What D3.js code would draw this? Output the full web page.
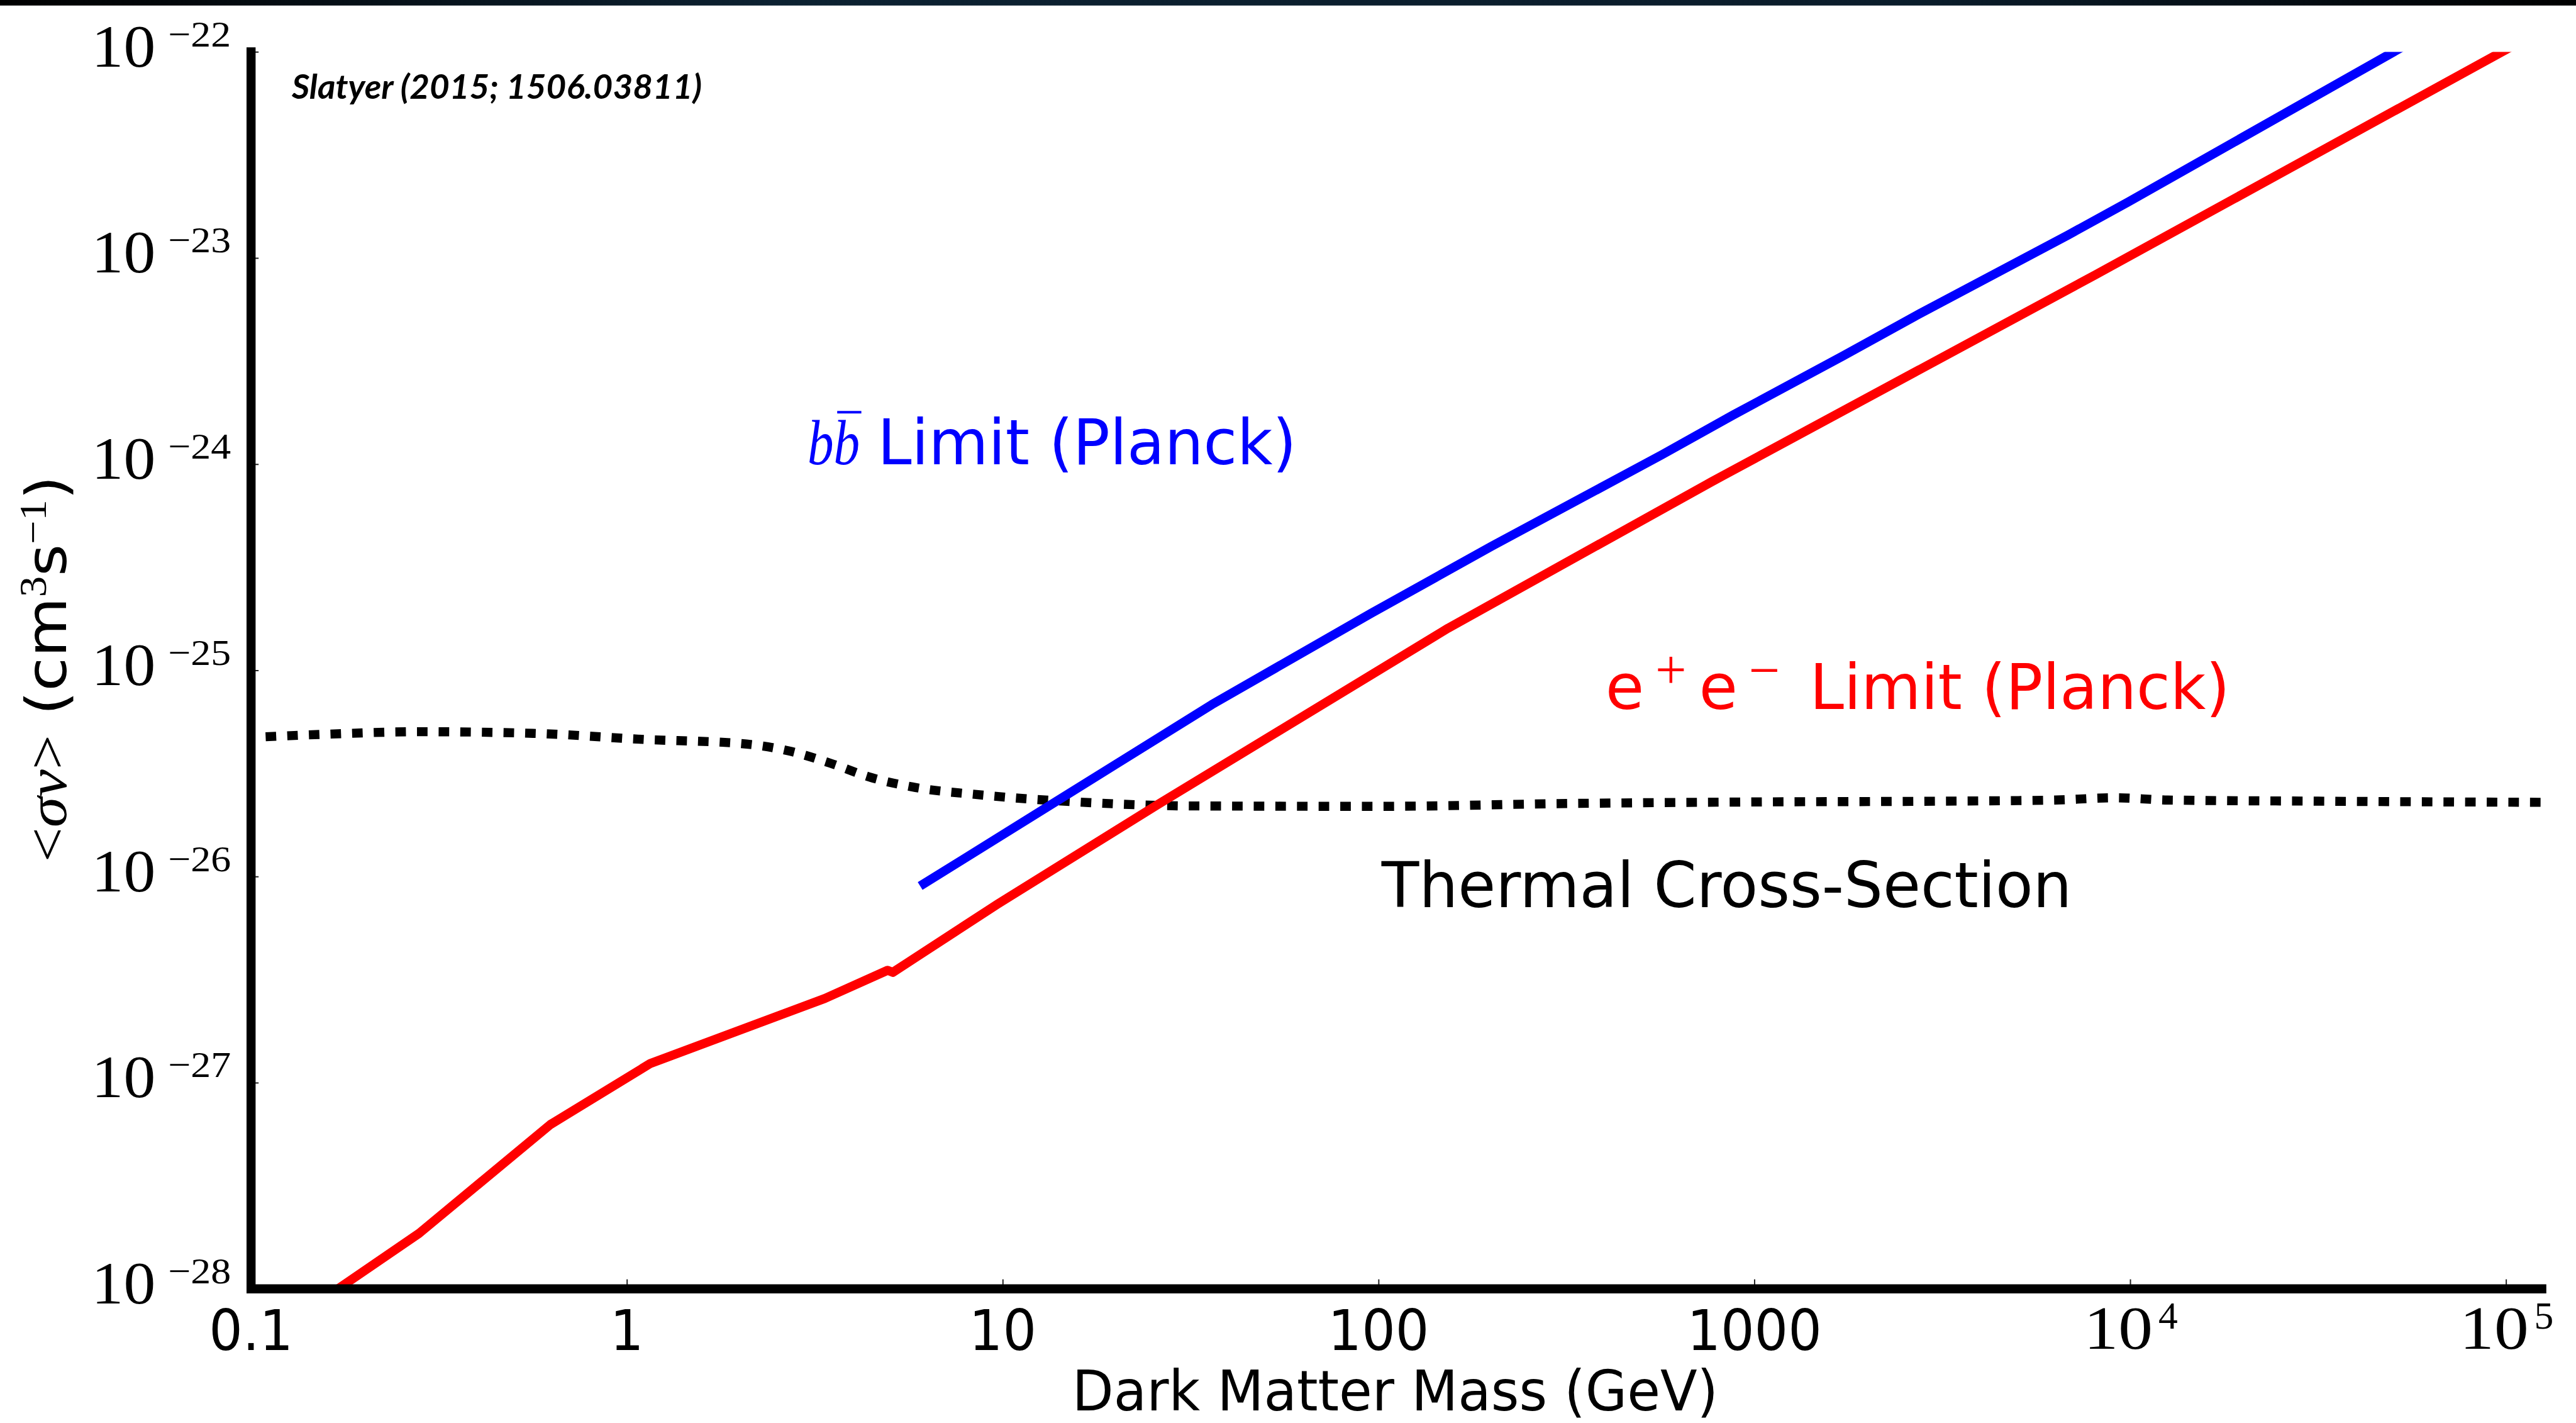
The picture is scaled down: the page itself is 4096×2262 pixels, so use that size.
<!DOCTYPE html>
<html>
<head>
<meta charset="utf-8">
<script src="https://cdn.jsdelivr.net/npm/d3@7"></script>
<style>
  html, body { margin: 0; padding: 0; background: #ffffff; overflow: hidden; }
  svg { display: block; }
</style>
</head>
<body>
<svg id="chart"></svg>
<script>
// ---- Axis ticks and labels ----
const massTicks = [0.1, 1, 10, 100, 1000, 1e4, 1e5];
const massTickBase = ["0.1", "1", "10", "100", "1000", "10", "10"];
const massTickExp = ["", "", "", "", "", "4", "5"];
const sigmaTicks = [1e-22, 1e-23, 1e-24, 1e-25, 1e-26, 1e-27, 1e-28];
const sigmaTickBase = ["10", "10", "10", "10", "10", "10", "10"];
const sigmaTickExp = ["\u221222", "\u221223", "\u221224", "\u221225", "\u221226", "\u221227", "\u221228"];

const massDomain = [0.1, 1.245e5];
const sigmaDomain = [1e-28, 1e-22];

// ---- b-bbar annihilation limit (Planck) ----
const bbMass = [6.03, 36.0, 95.5, 200, 567, 877, 1720, 2754, 6823, 9886, 60000];
const bbSigmaV = [8.99e-27, 6.82e-26, 1.89e-25, 4.0e-25, 1.11e-24, 1.73e-24, 3.35e-24, 5.37e-24, 1.29e-23, 1.87e-23, 1.20e-22];

// ---- e+e- annihilation limit (Planck) ----
const eeMass = [0.141, 0.28, 0.626, 1.155, 3.36, 4.94, 5.1, 9.7, 25.7, 153, 768, 8072, 120000];
const eeSigmaV = [7.9e-29, 1.86e-28, 6.27e-28, 1.24e-27, 2.56e-27, 3.51e-27, 3.43e-27, 7.36e-27, 2.22e-26, 1.60e-25, 8.20e-25, 8.28e-24, 1.23e-22];

// ---- Thermal relic cross-section ----
const thermalMass = [0.1, 0.158, 0.282, 0.562, 1.12, 2.0, 2.69, 3.47, 4.47, 5.75, 8.91, 15.8, 31.6, 100, 316, 1000, 3162, 6310, 9120, 12600, 31600, 125900];
const thermalSigmaV = [4.73e-26, 4.90e-26, 5.04e-26, 4.95e-26, 4.62e-26, 4.42e-26, 4.07e-26, 3.55e-26, 3.02e-26, 2.72e-26, 2.48e-26, 2.30e-26, 2.20e-26, 2.19e-26, 2.26e-26, 2.30e-26, 2.32e-26, 2.35e-26, 2.41e-26, 2.35e-26, 2.32e-26, 2.29e-26];

// ---- Layout (drawn in a 5120 x 2828 frame, scaled to the window) ----
const W = 5120, H = 2828, S = 0.8;
const plotLeft = 499, plotRight = 5052, plotTop = 103, plotBottom = 2561;
const SANS = "'DejaVu Sans', 'Liberation Sans', sans-serif";
const SERIF = "'Liberation Serif', 'DejaVu Serif', serif";
const NOTE = "'Liberation Sans Narrow', Lato, 'Open Sans', sans-serif";
const BLUE = "#0000ff", RED = "#ff0000";

const svg = d3.select("#chart").attr("width", W * S).attr("height", H * S);
const defs = svg.append("defs");
const root = svg.append("g").attr("transform", `scale(${S})`);

root.append("rect").attr("width", W).attr("height", H).attr("fill", "#ffffff");

// dark strip along the top edge
const grad = defs.append("linearGradient").attr("id", "strip").attr("x1", "0").attr("x2", "1").attr("y1", "0").attr("y2", "0");
[[0, "#000000"], [0.3, "#0c2131"], [0.75, "#0a1c2a"], [1, "#000000"]].forEach(([o, c]) =>
  grad.append("stop").attr("offset", o).attr("stop-color", c));
root.append("rect").attr("x", 0).attr("y", 0).attr("width", W).attr("height", 11).attr("fill", "url(#strip)");

const x = d3.scaleLog().domain(massDomain).range([plotLeft, plotRight]);
const y = d3.scaleLog().domain(sigmaDomain).range([plotBottom, plotTop]);

defs.append("clipPath").attr("id", "plot-clip")
  .append("rect").attr("x", plotLeft).attr("y", plotTop)
  .attr("width", plotRight - plotLeft).attr("height", plotBottom - plotTop);

// ---- curves ----
const line = d3.line().x(d => x(d[0])).y(d => y(d[1]));
const smooth = d3.line().x(d => x(d[0])).y(d => y(d[1])).curve(d3.curveMonotoneX);
const plot = root.append("g").attr("clip-path", "url(#plot-clip)");

plot.append("path").datum(d3.zip(thermalMass, thermalSigmaV))
  .attr("d", smooth).attr("fill", "none").attr("stroke", "#000")
  .attr("stroke-width", 18).attr("stroke-dasharray", "21 22").attr("stroke-dashoffset", 14)
  .attr("stroke-linecap", "butt");

plot.append("path").datum(d3.zip(bbMass, bbSigmaV))
  .attr("d", line).attr("fill", "none").attr("stroke", BLUE)
  .attr("stroke-width", 18).attr("stroke-linejoin", "round");

plot.append("path").datum(d3.zip(eeMass, eeSigmaV))
  .attr("d", line).attr("fill", "none").attr("stroke", RED)
  .attr("stroke-width", 18).attr("stroke-linejoin", "round");

// ---- ticks ----
root.append("g").attr("transform", `translate(0,${plotBottom})`)
  .call(d3.axisBottom(x).tickValues(massTicks).tickSizeInner(-19).tickSizeOuter(0).tickFormat(() => ""))
  .call(g => g.select(".domain").remove())
  .call(g => g.selectAll(".tick text").remove())
  .call(g => g.selectAll(".tick line").attr("stroke", "#222").attr("stroke-width", 2.5));

root.append("g").attr("transform", `translate(${plotLeft},0)`)
  .call(d3.axisLeft(y).tickValues(sigmaTicks).tickSizeInner(-15).tickSizeOuter(0).tickFormat(() => ""))
  .call(g => g.select(".domain").remove())
  .call(g => g.selectAll(".tick text").remove())
  .call(g => g.selectAll(".tick line").attr("stroke", "#222").attr("stroke-width", 2.5));

// ---- spines ----
root.append("line").attr("x1", plotLeft).attr("x2", plotLeft).attr("y1", plotTop).attr("y2", plotBottom)
  .attr("stroke", "#000").attr("stroke-width", 18).attr("stroke-linecap", "square");
root.append("line").attr("x1", plotLeft).attr("x2", plotRight).attr("y1", plotBottom).attr("y2", plotBottom)
  .attr("stroke", "#000").attr("stroke-width", 18).attr("stroke-linecap", "square");

// ---- tick labels ----
const xLab = root.append("g").attr("fill", "#000");
massTicks.forEach((t, i) => {
  const tx = x(t);
  if (!massTickExp[i]) {
    xLab.append("text")
      .attr("transform", `translate(${tx},2682) scale(0.94,1)`)
      .attr("text-anchor", "middle").attr("font-family", SANS).attr("font-size", 112)
      .text(massTickBase[i]);
  } else {
    xLab.append("text").attr("x", tx - 92).attr("y", 2680)
      .attr("font-family", SERIF).attr("font-size", 121)
      .attr("textLength", 137).attr("lengthAdjust", "spacingAndGlyphs")
      .text(massTickBase[i]);
    xLab.append("text").attr("x", tx + 56).attr("y", 2640)
      .attr("font-family", SERIF).attr("font-size", 77)
      .text(massTickExp[i]);
  }
});

const yLab = root.append("g").attr("fill", "#000");
sigmaTicks.forEach((t, i) => {
  const ty = y(t);
  yLab.append("text").attr("x", 182).attr("y", ty + 29)
    .attr("font-family", SERIF).attr("font-size", 119)
    .attr("textLength", 127).attr("lengthAdjust", "spacingAndGlyphs")
    .text(sigmaTickBase[i]);
  yLab.append("text").attr("x", 334).attr("y", ty - 11)
    .attr("font-family", SERIF).attr("font-size", 72)
    .attr("textLength", 125).attr("lengthAdjust", "spacingAndGlyphs")
    .text(sigmaTickExp[i]);
});

// ---- axis titles ----
root.append("text").attr("x", 2131).attr("y", 2802)
  .attr("font-family", SANS).attr("font-size", 112).attr("fill", "#000")
  .attr("textLength", 1284).attr("lengthAdjust", "spacingAndGlyphs")
  .text("Dark Matter Mass (GeV)");

const yTitle = root.append("text").attr("transform", "translate(131,1713) rotate(-90)")
  .attr("font-size", 112).attr("fill", "#000")
  .attr("textLength", 768).attr("lengthAdjust", "spacingAndGlyphs");
yTitle.append("tspan").attr("font-family", SERIF).text("<");
yTitle.append("tspan").attr("font-family", SERIF).attr("font-style", "italic").text("\u03c3v");
yTitle.append("tspan").attr("font-family", SERIF).text(">");
yTitle.append("tspan").attr("font-family", SANS).text(" (cm");
yTitle.append("tspan").attr("font-family", SERIF).attr("font-size", 76).attr("dy", -40).text("3");
yTitle.append("tspan").attr("font-family", SANS).attr("dy", 40).text("s");
yTitle.append("tspan").attr("font-family", SERIF).attr("font-size", 76).attr("dy", -40).text("\u22121");
yTitle.append("tspan").attr("font-family", SANS).attr("dy", 40).text(")");

// ---- citation note ----
root.append("text").attr("x", 580).attr("y", 196)
  .attr("font-family", NOTE).attr("font-weight", "bold").attr("font-style", "italic")
  .attr("font-size", 68).attr("fill", "#000")
  .attr("textLength", 815).attr("lengthAdjust", "spacingAndGlyphs")
  .text("Slatyer (2015; 1506.03811)");

// ---- curve labels ----
// b b-bar
root.append("text").attr("x", 1605).attr("y", 923)
  .attr("font-family", SERIF).attr("font-style", "italic").attr("font-size", 127).attr("fill", BLUE)
  .attr("textLength", 104).attr("lengthAdjust", "spacingAndGlyphs")
  .text("bb");
root.append("line").attr("x1", 1664).attr("x2", 1712).attr("y1", 819).attr("y2", 819)
  .attr("stroke", BLUE).attr("stroke-width", 5);
root.append("text").attr("x", 1744).attr("y", 923)
  .attr("font-family", SANS).attr("font-size", 125).attr("fill", BLUE)
  .attr("textLength", 833).attr("lengthAdjust", "spacingAndGlyphs")
  .text("Limit (Planck)");

// e+ e-
const ee = root.append("text").attr("y", 1409).attr("font-size", 125).attr("fill", RED);
ee.append("tspan").attr("x", 3191).attr("font-family", SANS).text("e");
ee.append("tspan").attr("x", 3290).attr("y", 1368).attr("font-family", SERIF).attr("font-size", 110).text("+");
ee.append("tspan").attr("x", 3377).attr("y", 1409).attr("font-family", SANS).text("e");
ee.append("tspan").attr("x", 3476).attr("y", 1369).attr("font-family", SERIF).attr("font-size", 110).text("\u2212");
root.append("text").attr("x", 3597).attr("y", 1409)
  .attr("font-family", SANS).attr("font-size", 125).attr("fill", RED)
  .attr("textLength", 835).attr("lengthAdjust", "spacingAndGlyphs")
  .text("Limit (Planck)");

// thermal
root.append("text").attr("x", 2746).attr("y", 1803)
  .attr("font-family", SANS).attr("font-size", 125).attr("fill", "#000")
  .attr("textLength", 1372).attr("lengthAdjust", "spacingAndGlyphs")
  .text("Thermal Cross-Section");
</script>
</body>
</html>
